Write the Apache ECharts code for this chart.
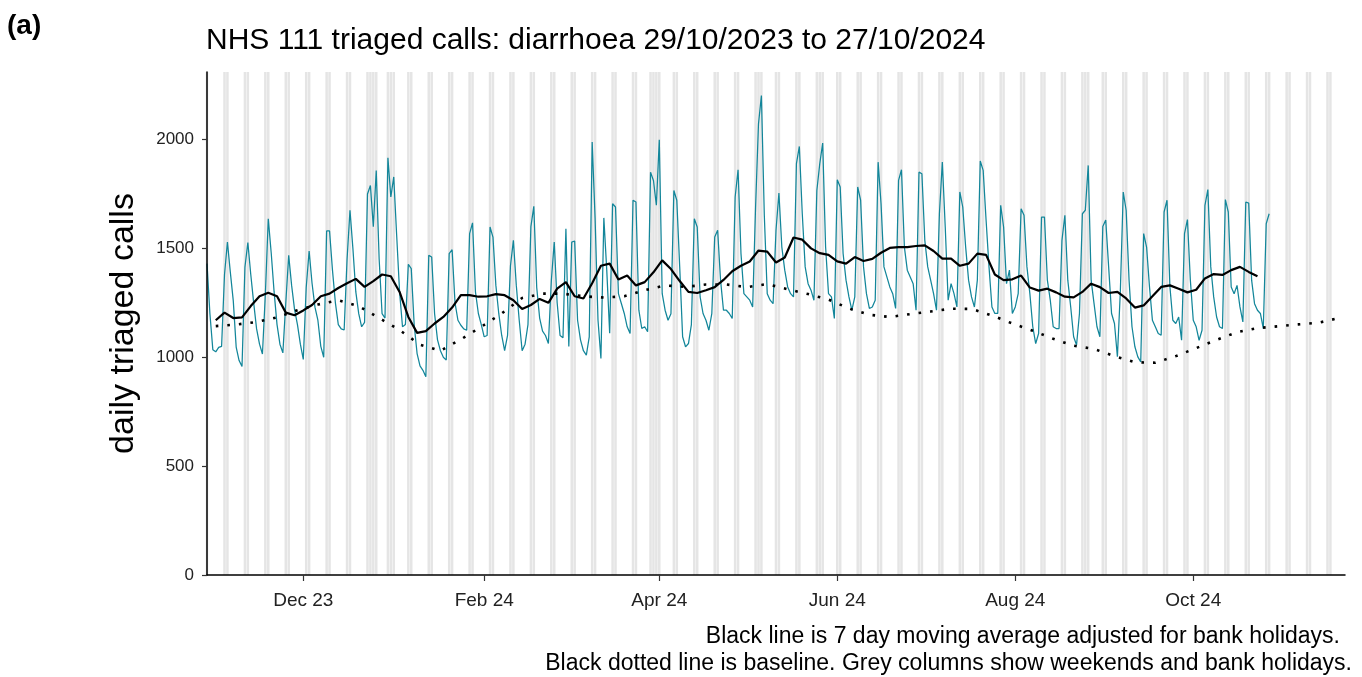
<!DOCTYPE html>
<html>
<head>
<meta charset="utf-8">
<title>NHS 111 triaged calls: diarrhoea</title>
<script src="https://cdn.jsdelivr.net/npm/echarts@6.0.0/dist/echarts.min.js"></script>
<style>
  html, body { margin: 0; padding: 0; background: #fff; }
  #chart { width: 1362px; height: 677px; }
</style>
</head>
<body>
<div id="chart"></div>
<script>
// first day on the axis (a Sunday) and how many days the axis shows
const startDate = Date.UTC(2023, 9, 29);
const axisDays = 391;

// daily triaged calls from 29/10/2023, one row per week (Sun .. Sat)
const dailyCalls = [
  1430, 1200, 1035, 1025, 1045, 1050, 1380,
  1529, 1390, 1260, 1047, 985, 958, 1414,
  1527, 1380, 1250, 1130, 1060, 1015, 1290,
  1636, 1480, 1300, 1150, 1060, 1020, 1250,
  1468, 1330, 1220, 1150, 1060, 990, 1320,
  1488, 1340, 1230, 1170, 1050, 1000, 1580,
  1580, 1400, 1250, 1150, 1130, 1125, 1450,
  1675, 1500, 1300, 1200, 1140, 1160, 1750,
  1789, 1600, 1858, 1450, 1200, 1180, 1916,
  1736, 1828, 1560, 1300, 1140, 1150, 1427,
  1407, 1150, 1017, 960, 940, 910, 1468,
  1460, 1200, 1080, 1030, 1000, 987, 1476,
  1494, 1250, 1170, 1147, 1130, 1124, 1568,
  1617, 1300, 1201, 1150, 1094, 1100, 1598,
  1552, 1330, 1200, 1100, 1030, 1100, 1420,
  1537, 1330, 1170, 1030, 1060, 1150, 1600,
  1693, 1320, 1180, 1120, 1100, 1063, 1350,
  1529, 1250, 1100, 1090, 1590, 1050, 1529,
  1534, 1170, 1080, 1030, 1010, 1094, 1988,
  1640, 1170, 994, 1640, 1400, 1110, 1705,
  1690, 1292, 1247, 1201, 1140, 1109, 1721,
  1713, 1216, 1132, 1140, 1117, 1850, 1812,
  1698, 1999, 1292, 1216, 1170, 1200, 1766,
  1721, 1415, 1094, 1048, 1063, 1150, 1636,
  1598, 1277, 1201, 1170, 1124, 1200, 1552,
  1583, 1354, 1216, 1216, 1201, 1178, 1736,
  1861, 1476, 1292, 1277, 1262, 1231, 1690,
  2072, 2202, 1650, 1292, 1262, 1246, 1583,
  1754, 1506, 1400, 1323, 1292, 1277, 1889,
  1968, 1660, 1415, 1338, 1308, 1262, 1766,
  1889, 1984, 1506, 1292, 1277, 1178, 1815,
  1782, 1476, 1354, 1277, 1216, 1277, 1782,
  1721, 1415, 1292, 1224, 1231, 1262, 1896,
  1705, 1415, 1369, 1323, 1292, 1224, 1812,
  1861, 1506, 1400, 1369, 1338, 1216, 1850,
  1843, 1537, 1415, 1354, 1292, 1216, 1659,
  1896, 1598, 1262, 1338, 1292, 1231, 1759,
  1690, 1506, 1354, 1277, 1231, 1354, 1901,
  1858, 1629, 1415, 1231, 1201, 1201, 1698,
  1598, 1338, 1400, 1201, 1231, 1292, 1682,
  1652, 1415, 1292, 1140, 1063, 1109, 1644,
  1644, 1354, 1262, 1140, 1132, 1132, 1537,
  1652, 1354, 1231, 1094, 1056, 1201, 1659,
  1675, 1881, 1354, 1246, 1140, 1094, 1600,
  1630, 1415, 1201, 1155, 1002, 1300, 1759,
  1675, 1354, 1140, 1048, 1002, 979, 1568,
  1506, 1323, 1170, 1140, 1109, 1101, 1667,
  1721, 1323, 1170, 1155, 1185, 1078, 1568,
  1632, 1354, 1170, 1140, 1078, 1124, 1698,
  1770, 1415, 1277, 1185, 1140, 1132, 1724,
  1667, 1323, 1292, 1330, 1231, 1162, 1713,
  1708, 1354, 1246, 1216, 1201, 1132, 1613,
  1659
];

// 7 day moving average, read every 3 days from day 3
const maStartDay = 3;
const maStep = 3;
const movingAvg = [
  1170, 1205, 1180, 1183, 1235, 1280, 1296, 1280, 1205, 1193,
  1215, 1240, 1280, 1292, 1318, 1340, 1360, 1323, 1350, 1380,
  1372, 1300, 1185, 1112, 1120, 1155, 1185, 1228, 1285, 1285,
  1278, 1280, 1290, 1285, 1262, 1222, 1240, 1268, 1250, 1315,
  1345, 1280, 1270, 1340, 1420, 1430, 1357, 1375, 1330, 1345,
  1390, 1445, 1405, 1350, 1300, 1295, 1308, 1322, 1355, 1395,
  1420, 1440, 1490, 1485, 1435, 1458, 1550, 1540, 1500, 1478,
  1470, 1440, 1430, 1460, 1442, 1452, 1480, 1502, 1506, 1506,
  1511, 1514, 1488, 1453, 1453, 1420, 1430, 1476, 1470, 1380,
  1354, 1358, 1375, 1320, 1306, 1315, 1298, 1278, 1275, 1300,
  1338, 1322, 1295, 1300, 1270, 1228, 1238, 1280, 1323, 1330,
  1315, 1298, 1310, 1362, 1382, 1378, 1400, 1415, 1392, 1372
];

// baseline, read every 7 days from day 3
const baseStartDay = 3;
const baseStep = 7;
const baseline = [
  1143, 1150, 1162, 1183, 1216, 1242, 1262, 1235, 1180, 1125,
  1058, 1030, 1082, 1140, 1201, 1272, 1292, 1292, 1280, 1274,
  1280, 1308, 1330, 1323, 1334, 1334, 1322, 1336, 1312, 1290,
  1265, 1224, 1195, 1185, 1198, 1210, 1223, 1222, 1192, 1155,
  1122, 1085, 1053, 1038, 1005, 977, 975, 1005, 1042, 1080,
  1115, 1134, 1142, 1151, 1159, 1180
];

const bankHolidays = ['2023-12-25', '2023-12-26', '2024-01-01', '2024-03-29',
  '2024-04-01', '2024-05-06', '2024-05-27', '2024-08-26'];

const tickDates = ['2023-12-01', '2024-02-01', '2024-04-01', '2024-06-01', '2024-08-01', '2024-10-01'];
const tickLabels = ['Dec 23', 'Feb 24', 'Apr 24', 'Jun 24', 'Aug 24', 'Oct 24'];

const yTicks = [0, 500, 1000, 1500, 2000];
const yMax = 2310;

// build the day categories and series arrays
let days = [];
let greyCols = [];
let calls = [];
let ma = [];
let base = [];
for (let d = 0; d < axisDays; d++) {
  let dt = new Date(startDate + d * 86400000);
  let key = dt.toISOString().slice(0, 10);
  days.push(key);
  let wd = dt.getUTCDay();
  greyCols.push(wd === 0 || wd === 6 || bankHolidays.indexOf(key) >= 0 ? yMax : '-');
  calls.push(d < dailyCalls.length ? dailyCalls[d] : null);
  ma.push(null);
  base.push(null);
}
movingAvg.forEach((v, i) => { ma[maStartDay + i * maStep] = v; });
baseline.forEach((v, i) => { base[baseStartDay + i * baseStep] = v; });

const showTick = (idx) => tickDates.indexOf(days[idx]) >= 0;

const font = 'Liberation Sans, Arial, sans-serif';

let chart = echarts.init(document.getElementById('chart'));
chart.setOption({
  animation: false,
  backgroundColor: '#fff',
  textStyle: { fontFamily: font },
  title: {
    text: 'NHS 111 triaged calls: diarrhoea 29/10/2023 to 27/10/2024',
    left: 206,
    top: 26,
    padding: 0,
    textStyle: { fontFamily: font, fontSize: 30, fontWeight: 'normal', color: '#000' }
  },
  graphic: [
    { type: 'text', left: 7, top: 12, style: { text: '(a)', fontFamily: font, fontSize: 28, fontWeight: 'bold', fill: '#000' } },
    { type: 'text', right: 22, top: 625, style: { text: 'Black line is 7 day moving average adjusted for bank holidays.', fontFamily: font, fontSize: 23, fill: '#000' } },
    { type: 'text', right: 10, top: 652, style: { text: 'Black dotted line is baseline. Grey columns show weekends and bank holidays.', fontFamily: font, fontSize: 23, fill: '#000' } }
  ],
  grid: { left: 207, right: 17, top: 72, bottom: 102 },
  xAxis: {
    type: 'category',
    data: days,
    boundaryGap: false,
    z: 5,
    axisLine: { lineStyle: { color: '#000', width: 1.5 } },
    axisTick: { interval: showTick, length: 6, lineStyle: { color: '#333', width: 1.2 } },
    axisLabel: {
      interval: showTick,
      margin: 16,
      fontSize: 19,
      color: '#222',
      formatter: (v) => tickLabels[tickDates.indexOf(v)]
    },
    splitLine: { show: false }
  },
  yAxis: {
    type: 'value',
    min: 0,
    max: yMax,
    z: 5,
    name: 'daily triaged calls',
    nameLocation: 'middle',
    nameGap: 66,
    nameTextStyle: { fontFamily: font, fontSize: 34, color: '#000' },
    axisLine: { show: true, lineStyle: { color: '#000', width: 1.5 } },
    axisTick: { show: true, length: 5, customValues: yTicks, lineStyle: { color: '#333', width: 1.2 } },
    axisLabel: {
      customValues: yTicks,
      margin: 13,
      fontSize: 17,
      color: '#222',
      formatter: (v) => (yTicks.indexOf(v) >= 0 ? String(v) : '')
    },
    splitLine: { show: false }
  },
  series: [
    {
      name: 'weekends and bank holidays',
      type: 'bar',
      data: greyCols,
      barWidth: '86%',
      itemStyle: { color: '#e5e5e5' },
      silent: true
    },
    {
      name: 'daily triaged calls',
      type: 'line',
      data: calls,
      showSymbol: false,
      lineStyle: { color: '#13869a', width: 1.25 },
      silent: true
    },
    {
      name: 'baseline',
      type: 'line',
      data: base,
      connectNulls: true,
      showSymbol: false,
      lineStyle: { color: '#000', width: 2.6, type: [2.6, 9] },
      silent: true
    },
    {
      name: '7 day moving average',
      type: 'line',
      data: ma,
      connectNulls: true,
      showSymbol: false,
      lineStyle: { color: '#000', width: 2.2 },
      silent: true
    }
  ]
});
</script>
</body>
</html>
